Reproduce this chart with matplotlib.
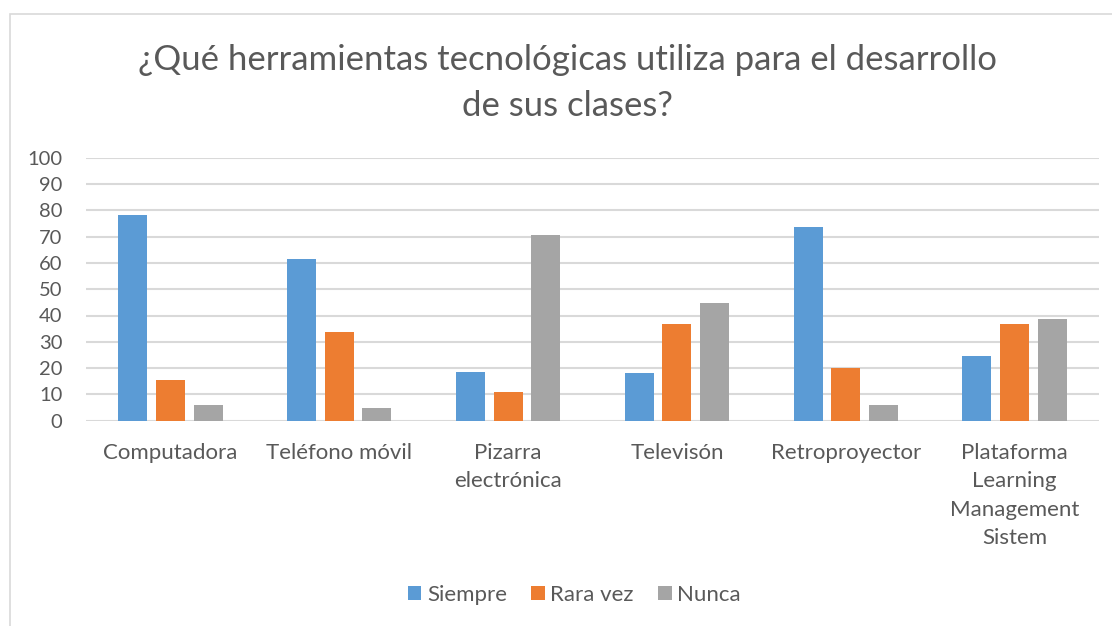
import matplotlib
matplotlib.use('Agg')
import matplotlib.pyplot as plt
import numpy as np

plt.rcParams['font.family'] = ['Lato', 'DejaVu Sans']

categorias = ['Computadora', 'Teléfono móvil', 'Pizarra\nelectrónica', 'Televisón',
              'Retroproyector', 'Plataforma\nLearning\nManagement\nSistem']
siempre = [78.3, 61.3, 18.4, 18.3, 73.8, 24.6]
rara_vez = [15.5, 33.8, 10.8, 36.8, 20.0, 36.8]
nunca = [6.1, 4.7, 70.5, 44.6, 6.1, 38.5]
series = [('Siempre', siempre, '#5B9BD5'), ('Rara vez', rara_vez, '#ED7D31'), ('Nunca', nunca, '#A5A5A5')]

txt = '#595959'
fig = plt.figure(figsize=(11.12, 6.26), dpi=100)
ax = fig.add_axes([86/1112, 1 - 420.7/626, (1099-86)/1112, (420.7-157.7)/626])

x = np.arange(len(categorias))
w = 0.172
step = 0.223
for i, (nombre, vals, col) in enumerate(series):
    ax.bar(x + (i-1)*step, vals, width=w, color=col, label=nombre, zorder=3)

ax.set_xlim(-0.5, len(categorias)-0.5)
ax.set_ylim(0, 100)
ax.set_yticks(range(0, 101, 10))
ax.yaxis.grid(True, color='#D9D9D9', linewidth=1.5, zorder=0)
for s in ax.spines.values():
    s.set_visible(False)
ax.tick_params(axis='both', length=0, colors=txt)
ax.tick_params(axis='y', pad=17, labelsize=14.5)
ax.tick_params(axis='x', pad=16, labelsize=16)
ax.set_xticks(x)
ax.set_xticklabels(categorias, linespacing=1.53)

fig.text(0.51, 1 - 83/626, '¿Qué herramientas tecnológicas utiliza para el desarrollo\nde sus clases?',
         ha='center', va='center', fontsize=25, color=txt, linespacing=1.5)

leg = fig.legend(loc='center', bbox_to_anchor=(0.5165, 1 - 595/626), ncol=3, frameon=False,
                 fontsize=16, handlelength=0.6, handleheight=0.6, handletextpad=0.25,
                 columnspacing=1.1)
for t in leg.get_texts():
    t.set_color(txt)

# chart border
fig.patches.append(plt.Rectangle((9.5/1112, -0.1), 1.2, 1 - 14/626 + 0.1, transform=fig.transFigure,
                                 fill=False, edgecolor='#D9D9D9', linewidth=1.2))

fig.savefig('out.png', dpi=100)
